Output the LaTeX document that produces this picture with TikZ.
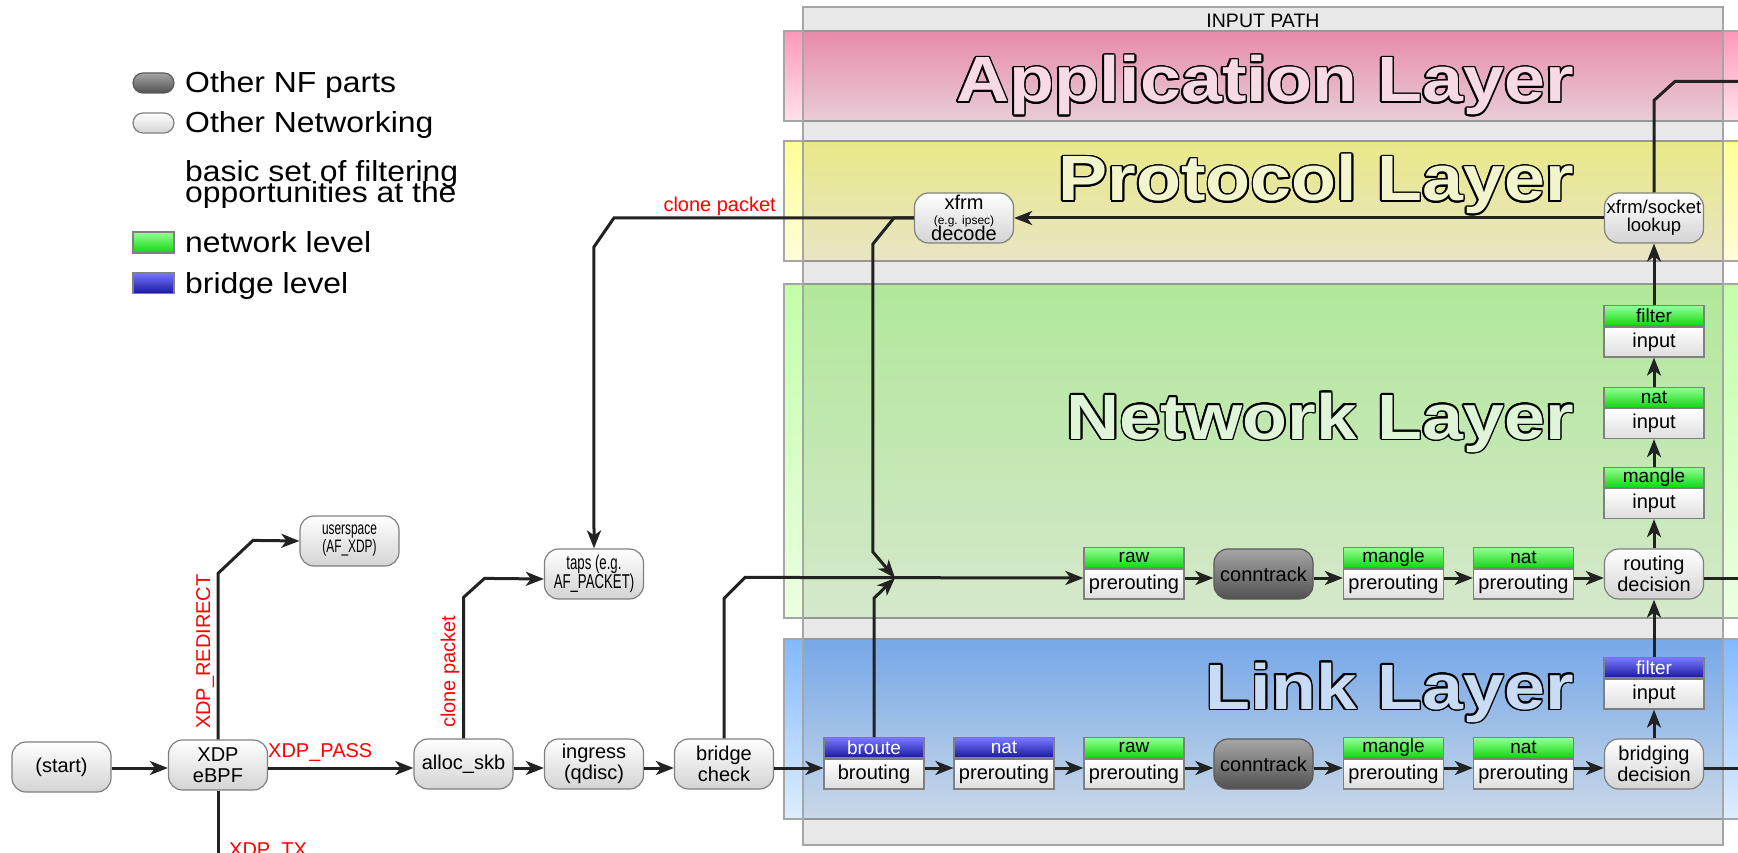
\documentclass[tikz,border=0pt]{standalone}
\usepackage{fontspec}
\setmainfont{Liberation Sans}
\newfontfamily\narrowfont[FakeStretch=0.66]{Liberation Sans}
\newfontfamily\widefont[FakeStretch=1.1]{Liberation Sans}
\newfontfamily\bandfont[FakeStretch=1.15]{Liberation Sans}
\usepackage{contour}
\contourlength{1.6pt}
\usetikzlibrary{arrows.meta,positioning}
\definecolor{flowc}{HTML}{222222}
\definecolor{apptop}{RGB}{255,152,187}
\definecolor{appbot}{RGB}{255,226,237}
\definecolor{protop}{RGB}{255,255,150}
\definecolor{probot}{RGB}{255,253,216}
\definecolor{nettop}{RGB}{195,255,170}
\definecolor{netbot}{RGB}{235,255,224}
\definecolor{lnktop}{RGB}{130,185,255}
\definecolor{lnkbot}{RGB}{222,238,255}
\definecolor{apptxt}{RGB}{248,218,230}
\definecolor{protxt}{RGB}{245,245,205}
\definecolor{nettxt}{RGB}{222,245,215}
\definecolor{lnktxt}{RGB}{200,220,245}
\definecolor{grtop}{RGB}{150,255,150}
\definecolor{grbot}{RGB}{15,215,15}
\definecolor{bltop}{RGB}{120,120,255}
\definecolor{blbot}{RGB}{25,25,160}

\begin{document}
\begin{tikzpicture}[x=1pt,y=-1pt,
  flow/.style={draw=flowc,line width=3pt,-{Stealth[length=18pt,width=14pt,inset=5pt]}},
  wire/.style={draw=flowc,line width=3pt},
  other/.style={rectangle,rounded corners=14pt,draw=black!50,line width=1.2pt,top color=white,bottom color=black!17,minimum width=99pt,minimum height=50pt,inner sep=0pt,align=center,font=\fontsize{20}{21}\selectfont},
  nfpart/.style={other,top color=black!35,bottom color=black!68,draw=black!65},
  nethead/.style={rectangle,draw=black!50,line width=1.2pt,top color=grtop,bottom color=grbot,minimum width=100pt,minimum height=20pt,inner sep=0pt,font=\fontsize{19}{19}\selectfont},
  brhead/.style={nethead,top color=bltop,bottom color=blbot,text=white},
  tbl/.style={rectangle,draw=black!50,line width=1.2pt,top color=white,bottom color=black!13,minimum width=100pt,minimum height=30pt,inner sep=0pt,font=\fontsize{20}{20}\selectfont},
  lbl/.style={text=red,inner sep=0pt,font=\fontsize{20}{20}\selectfont},
  legend/.style={inner sep=0pt,anchor=base west,font=\widefont\fontsize{29}{29}\selectfont},
  layer/.style={inner sep=0pt,anchor=base east,font=\bandfont\bfseries\fontsize{64}{64}\selectfont}]
\useasboundingbox (0,0) rectangle (1738,853);
\clip (0,0) rectangle (1738,853);

\path[draw=black!35,line width=1.2pt,top color=apptop,bottom color=appbot] (784,31) rectangle (1760,121);
\path[draw=black!35,line width=1.2pt,top color=protop,bottom color=probot] (784,141) rectangle (1760,261);
\path[draw=black!35,line width=1.2pt,top color=nettop,bottom color=netbot] (784,284) rectangle (1760,618);
\path[draw=black!35,line width=1.2pt,top color=lnktop,bottom color=lnkbot] (784,639) rectangle (1760,819);
\path[draw=black!35,line width=1.2pt,fill=black,fill opacity=0.09] (803,7) rectangle (1723,845);
\node[font=\fontsize{19.5}{19.5}\selectfont] (inpath) at (1263,21) {INPUT PATH};
\node[layer] (appl) at (1574,102) {\contour{black}{\textcolor{apptxt}{Application Layer}}};
\node[layer] (prol) at (1574,201) {\contour{black}{\textcolor{protxt}{Protocol Layer}}};
\node[layer] (netl) at (1574,439) {\contour{black}{\textcolor{nettxt}{Network Layer}}};
\node[layer] (lnkl) at (1574,709) {\contour{black}{\textcolor{lnktxt}{Link Layer}}};

\node[nfpart,minimum width=41pt,minimum height=20pt,rounded corners=10pt] (lnf) at (153.5,83) {};
\node[other,minimum width=41pt,minimum height=20pt,rounded corners=10pt] (loth) at (153.5,123) {};
\node[nethead,minimum width=41pt,minimum height=21pt] (lnet) at (153.5,242.5) {};
\node[brhead,minimum width=41pt,minimum height=21pt] (lbr) at (153.5,283) {};
\node[legend] (tnf) at (185,93) {Other NF parts};
\node[legend] (toth) at (185,133) {Other Networking};
\node[legend] (tbas) at (185,182) {basic set of filtering};
\node[legend] (topp) at (185,203) {opportunities at the};
\node[legend] (tnet) at (185,252) {network level};
\node[legend] (tbr) at (185,293) {bridge level};

\node[other] (start) at (61.5,767) {(start)};
\node[other] (xdp) at (218,765) {XDP\\eBPF};
\node[other,font=\narrowfont\fontsize{18}{18}\selectfont] (usp) at (349.5,541) {userspace\\(AF\_XDP)};
\node[other] (alloc) at (463.5,764) {alloc\_skb};
\node[other,font=\narrowfont\fontsize{20}{19}\selectfont] (taps) at (594,574) {taps (e.g.\\AF\_PACKET)};
\node[other] (ingr) at (594,764) {ingress\\(qdisc)};
\node[other] (bchk) at (724,764) {bridge\\check};
\node[other] (dec) at (964,218) {xfrm\\[-6pt]{\fontsize{12}{12}\selectfont(e.g. ipsec)}\\[-5pt]decode};
\node[other,font=\fontsize{18.5}{18}\selectfont] (look) at (1654,218) {xfrm/socket\\lookup};
\node[nfpart] (ctn) at (1263.5,574) {conntrack};
\node[other] (rout) at (1654,574) {routing\\decision};
\node[nfpart] (ctl) at (1263.5,764) {conntrack};
\node[other] (brdg) at (1654,764) {bridging\\decision};

\node[tbl] (rawn) at (1134,584) {prerouting};
\node[nethead,above=0pt of rawn] (rawnh) {raw};
\node[tbl] (mann) at (1393.5,584) {prerouting};
\node[nethead,above=0pt of mann] (mannh) {mangle};
\node[tbl] (natn) at (1523.5,584) {prerouting};
\node[nethead,above=0pt of natn] (natnh) {nat};

\node[tbl] (brou) at (874,774) {brouting};
\node[brhead,above=0pt of brou] (brouh) {broute};
\node[tbl] (natl) at (1004,774) {prerouting};
\node[brhead,above=0pt of natl] (natlh) {nat};
\node[tbl] (rawl) at (1134,774) {prerouting};
\node[nethead,above=0pt of rawl] (rawlh) {raw};
\node[tbl] (manl) at (1393.5,774) {prerouting};
\node[nethead,above=0pt of manl] (manlh) {mangle};
\node[tbl] (natl2) at (1523.5,774) {prerouting};
\node[nethead,above=0pt of natl2] (natl2h) {nat};

\node[tbl] (filin) at (1654,342) {input};
\node[nethead,above=0pt of filin] (filinh) {filter};
\node[tbl] (natin) at (1654,423.5) {input};
\node[nethead,above=0pt of natin] (natinh) {nat};
\node[tbl] (manin) at (1654,503.5) {input};
\node[nethead,above=0pt of manin] (maninh) {mangle};
\node[tbl] (brin) at (1654,694) {input};
\node[brhead,above=0pt of brin] (brinh) {filter};

\coordinate (lrow) at (0,768);
\coordinate (jn) at (895,578);

\draw[flow] (start.east |- lrow) -- (xdp.west |- lrow);
\draw[flow] (xdp.east |- lrow) -- (alloc.west |- lrow);
\draw[flow] (alloc.east |- lrow) -- (ingr.west |- lrow);
\draw[flow] (ingr.east |- lrow) -- (bchk.west |- lrow);
\draw[flow] (bchk.east |- lrow) -- (brou.west |- lrow);
\draw[flow] (brou.east |- lrow) -- (natl.west |- lrow);
\draw[flow] (natl.east |- lrow) -- (rawl.west |- lrow);
\draw[flow] (rawl.east |- lrow) -- (ctl.west |- lrow);
\draw[flow] (ctl.east |- lrow) -- (manl.west |- lrow);
\draw[flow] (manl.east |- lrow) -- (natl2.west |- lrow);
\draw[flow] (natl2.east |- lrow) -- (brdg.west |- lrow);
\draw[wire] (brdg.east |- lrow) -- ++(60,0);

\draw[flow] (bchk.north) -- ++(0,-140) -- ++(21,-21) -- (rawn.west |- jn);
\draw[flow] (rawn.east |- jn) -- (ctn.west |- jn);
\draw[flow] (ctn.east |- jn) -- (mann.west |- jn);
\draw[flow] (mann.east |- jn) -- (natn.west |- jn);
\draw[flow] (natn.east |- jn) -- (rout.west |- jn);
\draw[wire] (rout.east |- jn) -- ++(60,0);
\draw[flow] (brouh.north) -- ++(0,-139) -- (jn);
\draw[flow] (dec.west) -- ++(-20,0) -- ++(-21,26) -- ++(0,308) -- (jn);
\draw[flow] (dec.west) -- ++(-300,0) -- ++(-20,29) -- (taps.north);
\draw[flow] (look.west) -- (dec.east);
\draw[wire] (look.north) -- ++(0,-92) -- ++(21,-19) -- ++(70,0);

\draw[flow] (brdg) -- (brin);
\draw[flow] (brinh) -- (rout);
\draw[flow] (rout) -- (manin);
\draw[flow] (maninh) -- (natin);
\draw[flow] (natinh) -- (filin);
\draw[flow] (filinh) -- (look);

\draw[flow] (xdp.north) -- ++(0,-166) -- ++(35,-33) -- (usp.west);
\draw[wire] (xdp.south) -- ++(0,80);
\draw[flow] (alloc.north) -- ++(0,-141) -- ++(21,-19) -- ([yshift=-5pt]taps.west);

\node[lbl,anchor=base west] (pass) at (268,757) {XDP\_PASS};
\node[lbl,rotate=90,anchor=base west] (redir) at (210,729) {XDP\_REDIRECT};
\node[lbl,rotate=90,anchor=base west] (clone1) at (455,728) {clone packet};
\node[lbl,anchor=base east] (clone2) at (776,212) {clone packet};
\node[lbl,anchor=base west] (tx) at (229,856) {XDP\_TX};
\end{tikzpicture}
\end{document}
